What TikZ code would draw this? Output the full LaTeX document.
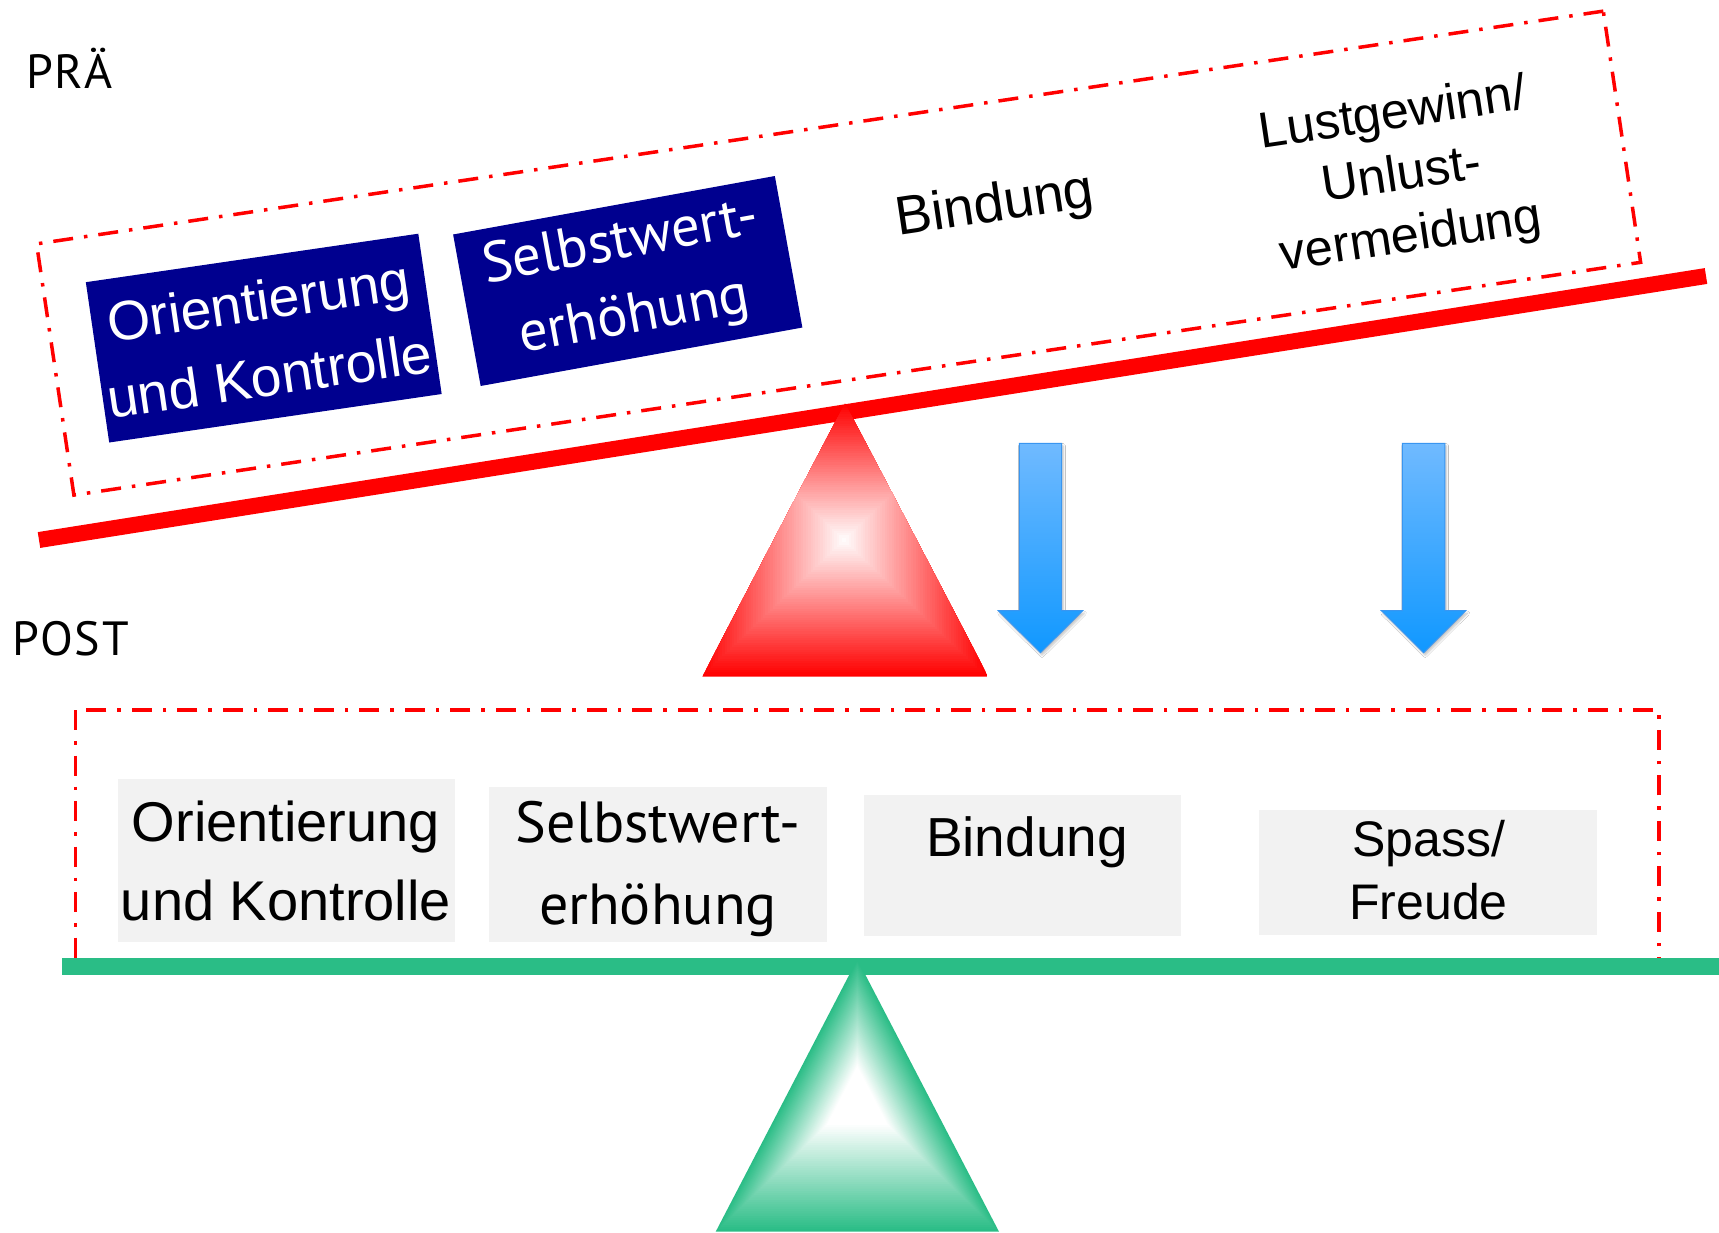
\documentclass[tikz,border=0pt]{standalone}
\usepackage{fontspec}
\setmainfont{Liberation Sans}
\newfontfamily\humsans{PT Sans}
\newfontfamily\labelsans[LetterSpace=4]{PT Sans}
\usetikzlibrary{shadows.blur}

\definecolor{navyb}{RGB}{0,0,143}
\definecolor{beamgreen}{RGB}{42,189,134}
\definecolor{boxgray}{RGB}{242,242,242}
\definecolor{arrowtop}{RGB}{112,186,255}
\definecolor{arrowbot}{RGB}{16,152,255}
\definecolor{arrowline}{RGB}{58,150,240}

\begin{document}
\begin{tikzpicture}[x=1pt,y=-1pt,
  frame/.style={draw=red, line width=3.5pt,
    dash pattern=on 20pt off 11pt on 3.5pt off 11pt},
  navybox/.style={fill=navyb, text=white, inner sep=0pt, align=center},
  graybox/.style={fill=boxgray, inner sep=0pt},
  plain/.style={inner sep=0pt, align=center},
  sectionlabel/.style={anchor=base west, inner sep=0pt,
    font=\labelsans\fontsize{48}{54}\selectfont},
  downarrow/.style={top color=arrowtop, bottom color=arrowbot,
    draw=arrowline, line width=1pt, line join=miter,
    blur shadow={shadow xshift=1.5pt, shadow yshift=-2.5pt,
      shadow blur steps=6, shadow opacity=25}},
  beam/.style={line cap=butt}]

\useasboundingbox (0,0) rectangle (1719,1232);
\fill[white] (0,0) rectangle (1719,1232);

% section labels
\node[sectionlabel] (lblpre) at (26,88.6) {PRÄ};
\node[sectionlabel] (lblpost) at (12,655.2) {POST};

% ---------- tilted upper balance ----------
\node[frame, minimum width=1584pt, minimum height=254pt, rotate=8.45] (preframe) at (838.6,253.1) {};

\node[navybox, minimum width=336pt, minimum height=162pt, rotate=8.3,
      font=\fontsize{55.5}{76}\selectfont] (pre1) at (263.75,338.1) {Orientierung\\und Kontrolle};
\node[navybox, minimum width=327pt, minimum height=154pt, rotate=10.3,
      font=\humsans\fontsize{57}{75}\selectfont] (pre2) at (627.75,281) {Selbstwert-\\erhöhung};
\node[plain, rotate=8.5, font=\fontsize{54.5}{60}\selectfont] (pre3) at (995,207) {Bindung};
\node[plain, rotate=8.5, font=\fontsize{50.5}{62}\selectfont] (pre4) at (1402,177) {Lustgewinn/\\Unlust-\\vermeidung};

% red beam
\coordinate (rbL) at (39,540);
\coordinate (rbR) at (1706,276);
\draw[beam, red, line width=16pt] (rbL) -- (rbR);

% red fulcrum with rectangular gradient
\begin{scope}
  \clip (845,403.3) -- (988.3,676.7) -- (702.3,676.7) -- cycle;
  \foreach \i in {0,...,60}{
    \pgfmathsetmacro\myf{1-\i/60}
    \pgfmathsetmacro\myp{100*\myf}
    \fill[red!\myp!white] ({844-143*\myf},{540-137*\myf}) rectangle ({844+143*\myf},{540+137*\myf});
  }
\end{scope}

% blue arrows
\foreach \cx in {1040.5,1423.6}{
  \shadedraw[downarrow] ({\cx-21.2},443.3) -- ({\cx+21.2},443.3) -- ({\cx+21.2},610.7)
     -- ({\cx+42.2},610.7) -- (\cx,652.7) -- ({\cx-42.2},610.7) -- ({\cx-21.2},610.7) -- cycle;
}

% ---------- level lower balance ----------
\draw[frame] (75.7,710) rectangle (1659,962);

\node[graybox, minimum width=337pt, minimum height=162.7pt] (gb1) at (286.5,860.3) {};
\node[graybox, minimum width=337.6pt, minimum height=154.5pt] (gb2) at (657.8,864.3) {};
\node[graybox, minimum width=316.5pt, minimum height=140.5pt] (gb3) at (1022.3,865.3) {};
\node[graybox, minimum width=338pt, minimum height=125.5pt] (gb4) at (1428,872.3) {};

\node[plain, font=\fontsize{56}{78.4}\selectfont] (post1) at (286,861) {Orientierung\\und Kontrolle};
\node[plain, font=\humsans\fontsize{58}{82}\selectfont] (post2) at (658,869) {Selbstwert-\\erhöhung};
\node[plain, font=\fontsize{55}{60}\selectfont] (post3) at (1027,842.5) {Bindung};
\node[plain, font=\fontsize{50}{62.4}\selectfont] (post4) at (1428.5,870.3) {Spass/\\Freude};

% green beam
\coordinate (gbL) at (62,966.5);
\coordinate (gbR) at (1719,966.5);
\draw[beam, beamgreen, line width=17pt] (gbL) -- (gbR);

% green fulcrum with triangular gradient
\foreach \i in {0,...,60}{
  \pgfmathsetmacro\myf{1-\i/60}
  \pgfmathsetmacro\myp{max(0,min(100,100*(\myf-0.22)/0.78))}
  \fill[beamgreen!\myp!white] ({857.3},{1095.5-136.2*\myf}) -- ({857.3+141.7*\myf},{1095.5+136.2*\myf})
     -- ({857.3-141.6*\myf},{1095.5+136.2*\myf}) -- cycle;
}

\end{tikzpicture}
\end{document}
